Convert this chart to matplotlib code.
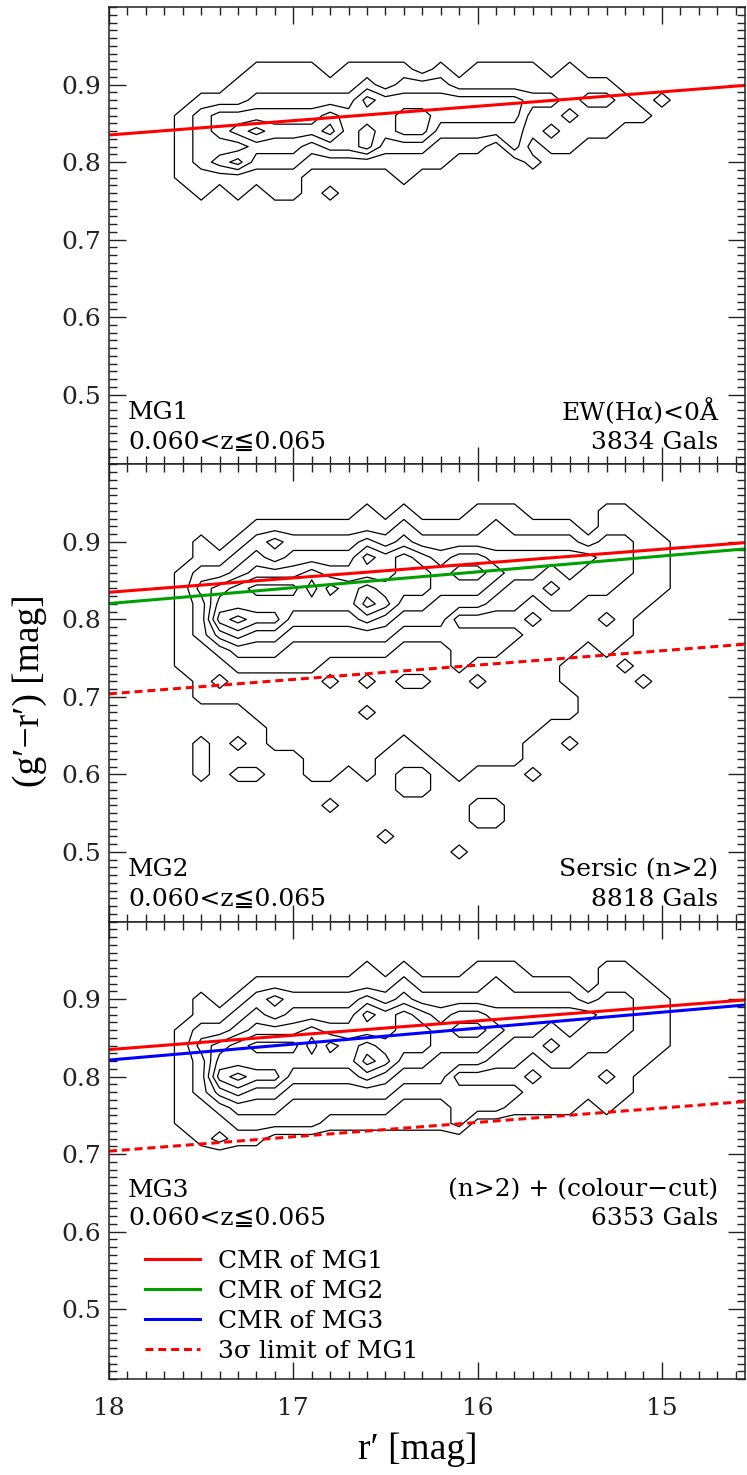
import matplotlib
matplotlib.use("Agg")
import matplotlib.pyplot as plt
from matplotlib.lines import Line2D
from matplotlib.ticker import MultipleLocator
import numpy as np

plt.rcParams["font.family"] = ["DejaVu Serif", "DejaVu Sans"]
LABEL_FONT = ["Liberation Serif", "DejaVu Serif"]

# r' bin centres (bright end to the right) and (g'-r') bin centres, top to bottom
R_BINS = [17.9, 17.8, 17.7, 17.6, 17.5, 17.4, 17.3, 17.2, 17.1, 17.0, 16.9, 16.8,
          16.7, 16.6, 16.5, 16.4, 16.3, 16.2, 16.1, 16.0, 15.9, 15.8, 15.7, 15.6,
          15.5, 15.4, 15.3, 15.2, 15.1, 15.0, 14.9, 14.8]
C_BINS = [0.96, 0.94, 0.92, 0.90, 0.88, 0.86, 0.84, 0.82, 0.80, 0.78, 0.76, 0.74, 0.72,
          0.70, 0.68, 0.66, 0.64, 0.62, 0.60, 0.58, 0.56, 0.54, 0.52, 0.50, 0.48]

# galaxy density level per bin: one string per r' bin, one digit per colour bin
MG1_LEVELS = [
    "0000000000000000000000000", "0000000000000000000000000", "0000000000000000000000000",
    "0000011111000000000000000", "0000122221100000000000000", "0000133231000000000000000",
    "0001134241100000000000000", "0011235321000000000000000", "0011234321100000000000000",
    "0011234321100000000000000", "0011234210000000000000000", "0001245310100000000000000",
    "0011233310000000000000000", "0012434410000000000000000", "0011333210000000000000000",
    "0012344211000000000000000", "0002344210000000000000000", "0012332110000000000000000",
    "0001332100000000000000000", "0011332100000000000000000", "0011332000000000000000000",
    "0011332200000000000000000", "0011211010000000000000000", "0001212100000000000000000",
    "0011121100000000000000000", "0001211000000000000000000", "0001211000000000000000000",
    "0000110000000000000000000", "0000010000000000000000000", "0000100000000000000000000",
    "0000000000000000000000000", "0000000000000000000000000",
]
MG2_LEVELS = [
    "0000000000000000000000000", "0000000000000000000000000", "0000000000000000000000000",
    "0000011111110000000000000", "0001123222111100111000000", "0000124564212100000000000",
    "0001235575321100101000000", "0012346564321110001000000", "0013246564321111100000000",
    "0012346543221111100000000", "0012354543221111111000000", "0012346543212111111010000",
    "0012345543211111110000000", "0113546753212121111000000", "0012445643211111100000100",
    "0123555432112111001100000", "0012455432112111101100000", "0012344332111111110000000",
    "0012454312221111111000010", "0112454312212111110011000", "0122343212211111110011000",
    "0112332212111111110000000", "0012332121111111001000000", "0012323211111110000000000",
    "0012332211100110100000000", "0001322111000000000000000", "0112222121100000000000000",
    "0112221111010000000000000", "0011111100001000000000000", "0001111000000000000000000",
    "0000000000000000000000000", "0000000000000000000000000",
]

# colour-magnitude relations, (g'-r') at r' = 18 and r' = 14.55
LINE_R = [18.0, 14.55]
CMR_MG1 = [0.835, 0.899]
CMR_MG2 = [0.8205, 0.891]
CMR_MG3 = [0.8215, 0.8925]
LIMIT_MG1 = [0.704, 0.768]

SAMPLES = ["MG1", "MG2", "MG3"]
REDSHIFT = "0.060<z≦0.065"
SELECTIONS = ["EW(Hα)<0Å", "Sersic (n>2)", "(n>2) + (colour−cut)"]
N_GALS = [3834, 8818, 6353]

RED, GREEN, BLUE = "#ff0000", "#00a000", "#0000ff"
DASH = (0, (2.6, 1.6))


def level_grid(columns):
    grid = np.array([[int(ch) for ch in col] for col in columns], dtype=float)
    return grid.T


def style_axis(ax, bottom_labels):
    ax.set_xlim(18, 14.55)
    ax.set_ylim(0.41, 1.0)
    ax.set_xticks([18, 17, 16, 15])
    ax.set_yticks([0.5, 0.6, 0.7, 0.8, 0.9])
    ax.xaxis.set_minor_locator(MultipleLocator(0.1))
    ax.yaxis.set_minor_locator(MultipleLocator(0.01))
    ax.tick_params(which="both", direction="in", top=True, right=True, width=1.0,
                   labelsize=18, colors="#222222")
    ax.tick_params(which="major", length=12)
    ax.tick_params(which="minor", length=5.5)
    ax.tick_params(axis="x", pad=13, labelbottom=bottom_labels)
    ax.tick_params(axis="y", pad=6)
    for spine in ax.spines.values():
        spine.set_linewidth(1.1)
        spine.set_color("#222222")


fig = plt.figure(figsize=(7.47, 14.75), dpi=100)
panel_h = 0.31003
bottoms = [0.06508 + 2 * panel_h, 0.06508 + panel_h, 0.06508]
axes = [fig.add_axes([0.1459, b, 0.8512, panel_h]) for b in bottoms]

R, C = np.meshgrid(R_BINS, C_BINS)
z_mg2 = level_grid(MG2_LEVELS)
cut = np.interp(R, LINE_R[::-1], LIMIT_MG1[::-1])
z_mg3 = np.where(C >= cut, z_mg2, 0.0)
grids = [level_grid(MG1_LEVELS), z_mg2, z_mg3]
levels = np.arange(0.55, 7.5, 1.0)

text_rows = [(0.114, 0.048), (0.114, 0.048), (0.413, 0.352)]
for i, ax in enumerate(axes):
    ax.contour(R, C, grids[i], levels=levels, colors="k", linewidths=0.9)
    ax.plot(LINE_R, CMR_MG1, color=RED, lw=2.2)
    if i > 0:
        ax.plot(LINE_R, LIMIT_MG1, color=RED, lw=2.2, ls=DASH)
    if i == 1:
        ax.plot(LINE_R, CMR_MG2, color=GREEN, lw=2.2)
    if i == 2:
        ax.plot(LINE_R, CMR_MG3, color=BLUE, lw=2.2)
    style_axis(ax, bottom_labels=(i == 2))

    y_top, y_bot = text_rows[i]
    ax.text(0.03, y_top, SAMPLES[i], transform=ax.transAxes, fontsize=18, va="center")
    ax.text(0.03, y_bot, REDSHIFT, transform=ax.transAxes, fontsize=18, va="center")
    ax.text(0.958, y_top, SELECTIONS[i], transform=ax.transAxes, fontsize=18,
            va="center", ha="right")
    ax.text(0.958, y_bot, f"{N_GALS[i]} Gals", transform=ax.transAxes, fontsize=18,
            va="center", ha="right")

handles = [
    Line2D([], [], color=RED, lw=2.2),
    Line2D([], [], color=GREEN, lw=2.2),
    Line2D([], [], color=BLUE, lw=2.2),
    Line2D([], [], color=RED, lw=2.2, ls=DASH),
]
labels = ["CMR of MG1", "CMR of MG2", "CMR of MG3", "3σ limit of MG1"]
axes[2].legend(handles, labels, loc="upper left", bbox_to_anchor=(0.057, 0.283),
               frameon=False, fontsize=18, handlelength=2.2, handletextpad=0.7,
               labelspacing=0.28, borderaxespad=0, borderpad=0)

axes[2].set_xlabel("r′ [mag]", fontsize=27, family=LABEL_FONT)
axes[2].xaxis.set_label_coords(0.486, -0.118)
fig.text(0.04, 0.532, "(g′−r′) [mag]", rotation=90, fontsize=27, family=LABEL_FONT,
         ha="center", va="center")

fig.savefig("out.png", dpi=100)
